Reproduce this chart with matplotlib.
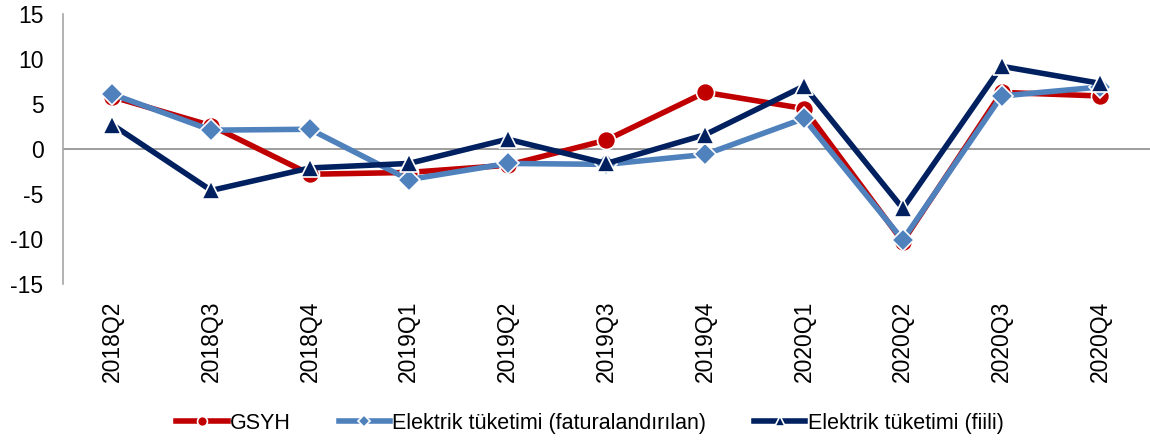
import matplotlib
matplotlib.use("Agg")
import matplotlib.pyplot as plt

plt.rcParams['font.family'] = ['Liberation Sans', 'DejaVu Sans']

categories = ["2018Q2", "2018Q3", "2018Q4", "2019Q1", "2019Q2", "2019Q3",
              "2019Q4", "2020Q1", "2020Q2", "2020Q3", "2020Q4"]
gsyh = [5.8, 2.6, -2.8, -2.6, -1.8, 1.0, 6.3, 4.5, -10.3, 6.3, 5.9]
fatura = [6.1, 2.1, 2.2, -3.4, -1.6, -1.7, -0.6, 3.4, -10.1, 5.9, 6.9]
fiili = [2.7, -4.6, -2.1, -1.6, 1.1, -1.6, 1.6, 7.0, -6.6, 9.2, 7.3]
yticks = [-15, -10, -5, 0, 5, 10, 15]

fig = plt.figure(figsize=(11.5, 4.41), dpi=100)
ax = fig.add_axes([0.0548, 0.356, 0.945, 0.612])

x = list(range(len(categories)))
ax.axhline(0, color='#8c8c8c', lw=1.2, zorder=1)
ax.plot(x, gsyh, color='#C00000', lw=4, marker='o', ms=13, mec='white', mew=1.2,
        label='GSYH', zorder=3)
ax.plot(x, fatura, color='#4F81BD', lw=4, marker='D', ms=11, mec='white', mew=1.2,
        label='Elektrik tüketimi (faturalandırılan)', zorder=4)
ax.plot(x, fiili, color='#002060', lw=4, marker='^', ms=13, mec='white', mew=1.2,
        label='Elektrik tüketimi (fiili)', zorder=5)

ax.set_xlim(-0.5, len(categories) - 0.5)
ax.set_ylim(-15, 15)
ax.set_yticks(yticks)
ax.set_yticklabels([str(v) for v in yticks], fontsize=16.5)
ax.set_xticks(x)
ax.set_xticklabels(categories, rotation=90, fontsize=16.5)
ax.tick_params(axis='x', length=0, pad=12)
ax.tick_params(axis='y', length=0, pad=14)
for s in ['top', 'right', 'bottom']:
    ax.spines[s].set_visible(False)
ax.spines['left'].set_color('#a6a6a6')
ax.spines['left'].set_linewidth(1.2)

leg = fig.legend(loc='center', bbox_to_anchor=(0.513, 0.04), ncol=3, frameon=False,
                 fontsize=15.5, markerscale=0.55, handlelength=2.4, handletextpad=0.1,
                 columnspacing=2.2)

fig.savefig('out.png', dpi=100)
